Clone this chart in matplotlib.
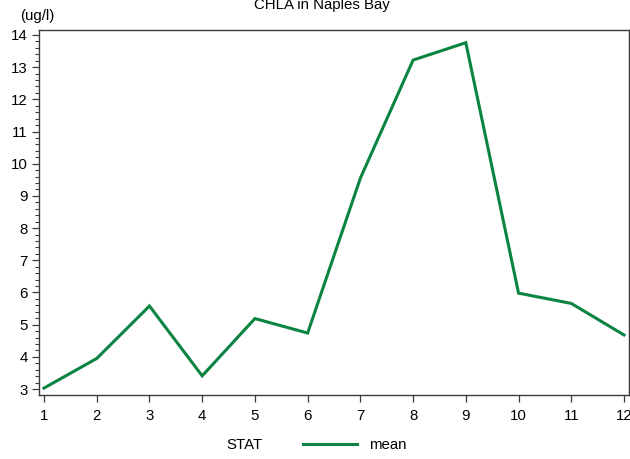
import matplotlib
matplotlib.use("Agg")
import matplotlib.pyplot as plt
from matplotlib.ticker import MultipleLocator
from matplotlib.lines import Line2D

plt.rcParams['font.family'] = ['Liberation Sans', 'DejaVu Sans']

# Datos
meses = [1, 2, 3, 4, 5, 6, 7, 8, 9, 10, 11, 12]
chla_media = [3.03, 3.95, 5.58, 3.41, 5.19, 4.74, 9.55, 13.22, 13.76, 5.98, 5.66, 4.68]

color_linea = '#0b8442'
color_ejes = '#3a3a3a'
tam_letra = 10.8

fig = plt.figure(figsize=(6.3, 4.59), dpi=100)
ax = fig.add_axes([39 / 630, 1 - 395 / 459, 590 / 630, 365.5 / 459])

ax.plot(meses, chla_media, color=color_linea, linewidth=2.2, solid_joinstyle='miter')

ax.set_xlim(0.905, 12.095)
ax.set_ylim(2.815, 14.17)
ax.set_xticks(meses)
ax.yaxis.set_major_locator(MultipleLocator(1))
ax.yaxis.set_minor_locator(MultipleLocator(0.2))

for lado in ['left', 'bottom', 'top', 'right']:
    ax.spines[lado].set_color(color_ejes)
    ax.spines[lado].set_linewidth(1.0)

ax.tick_params(axis='both', which='major', direction='out', length=5, width=0.9,
               color=color_ejes, labelsize=tam_letra, labelcolor='black')
ax.tick_params(axis='x', pad=5)
ax.tick_params(axis='y', pad=3)
ax.tick_params(axis='y', which='minor', direction='out', length=3, width=0.8, color=color_ejes)

# Titulo y etiqueta del eje
fig.text(0.511, 1 - 5 / 459, "CHLA in Naples Bay", ha='center', va='center', fontsize=tam_letra)
fig.text(37 / 630, 1 - 16 / 459, "(ug/l)", ha='center', va='center', fontsize=tam_letra)

# Leyenda inferior
fig.text(244 / 630, 1 - 445 / 459, "STAT", ha='center', va='center', fontsize=tam_letra)
manija = Line2D([0], [0], color=color_linea, linewidth=2.2)
fig.legend([manija], ["mean"], loc='center left', bbox_to_anchor=(303 / 630, 1 - 445 / 459),
           frameon=False, fontsize=tam_letra, handlelength=3.6, handletextpad=0.8,
           borderpad=0, borderaxespad=0)

fig.savefig("out.png", dpi=100)
